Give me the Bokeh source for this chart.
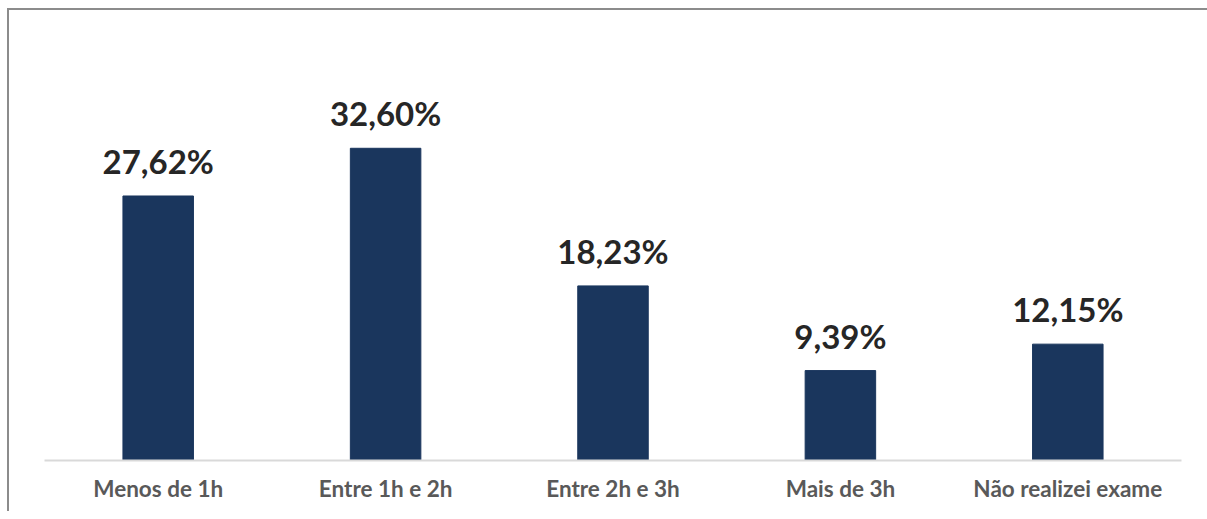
from bokeh.plotting import figure
from bokeh.models import FactorRange, Range1d, ColumnDataSource
from bokeh.core.properties import value
from bokeh.embed import file_html
from bokeh.resources import INLINE

categories = ["Menos de 1h", "Entre 1h e 2h", "Entre 2h e 3h", "Mais de 3h", "Não realizei exame"]
values = [27.62, 32.60, 18.23, 9.39, 12.15]
labels = ["27,62%", "32,60%", "18,23%", "9,39%", "12,15%"]

src = ColumnDataSource(dict(cat=categories, val=values, lab=labels))

p = figure(x_range=FactorRange(*categories, range_padding=0),
           y_range=Range1d(0, 44.9),
           width=1200, height=503, output_backend="svg", toolbar_location=None,
           min_border_left=35, min_border_right=28, min_border_top=20, min_border_bottom=53)
p.styles = {"border-left": "2px solid #8c8c8c", "border-top": "2px solid #8c8c8c",
            "border-right": "none", "border-bottom": "none",
            "margin-left": "7px", "margin-top": "8px"}
p.outline_line_color = None
p.xgrid.visible = False
p.ygrid.visible = False
p.yaxis.visible = False
p.x_range.range_padding = 0

p.vbar(x="cat", top="val", width=0.31, source=src, color="#1a365d")
p.text(x="cat", y="val", text="lab", source=src, text_align="center", text_baseline="alphabetic",
       y_offset=-35, text_font=value("Lato"), text_font_style="bold", text_font_size="33px",
       text_color="#262626")

ax = p.xaxis[0]
ax.axis_line_color = "#d9d9d9"
ax.axis_line_width = 2
ax.major_tick_line_color = None
ax.minor_tick_line_color = None
ax.major_label_text_font = "Lato"
ax.major_label_text_font_style = "bold"
ax.major_label_text_font_size = "22.5px"
ax.major_label_text_color = "#595959"
ax.major_label_standoff = 8

open("out.html", "w").write(file_html(p, INLINE))
